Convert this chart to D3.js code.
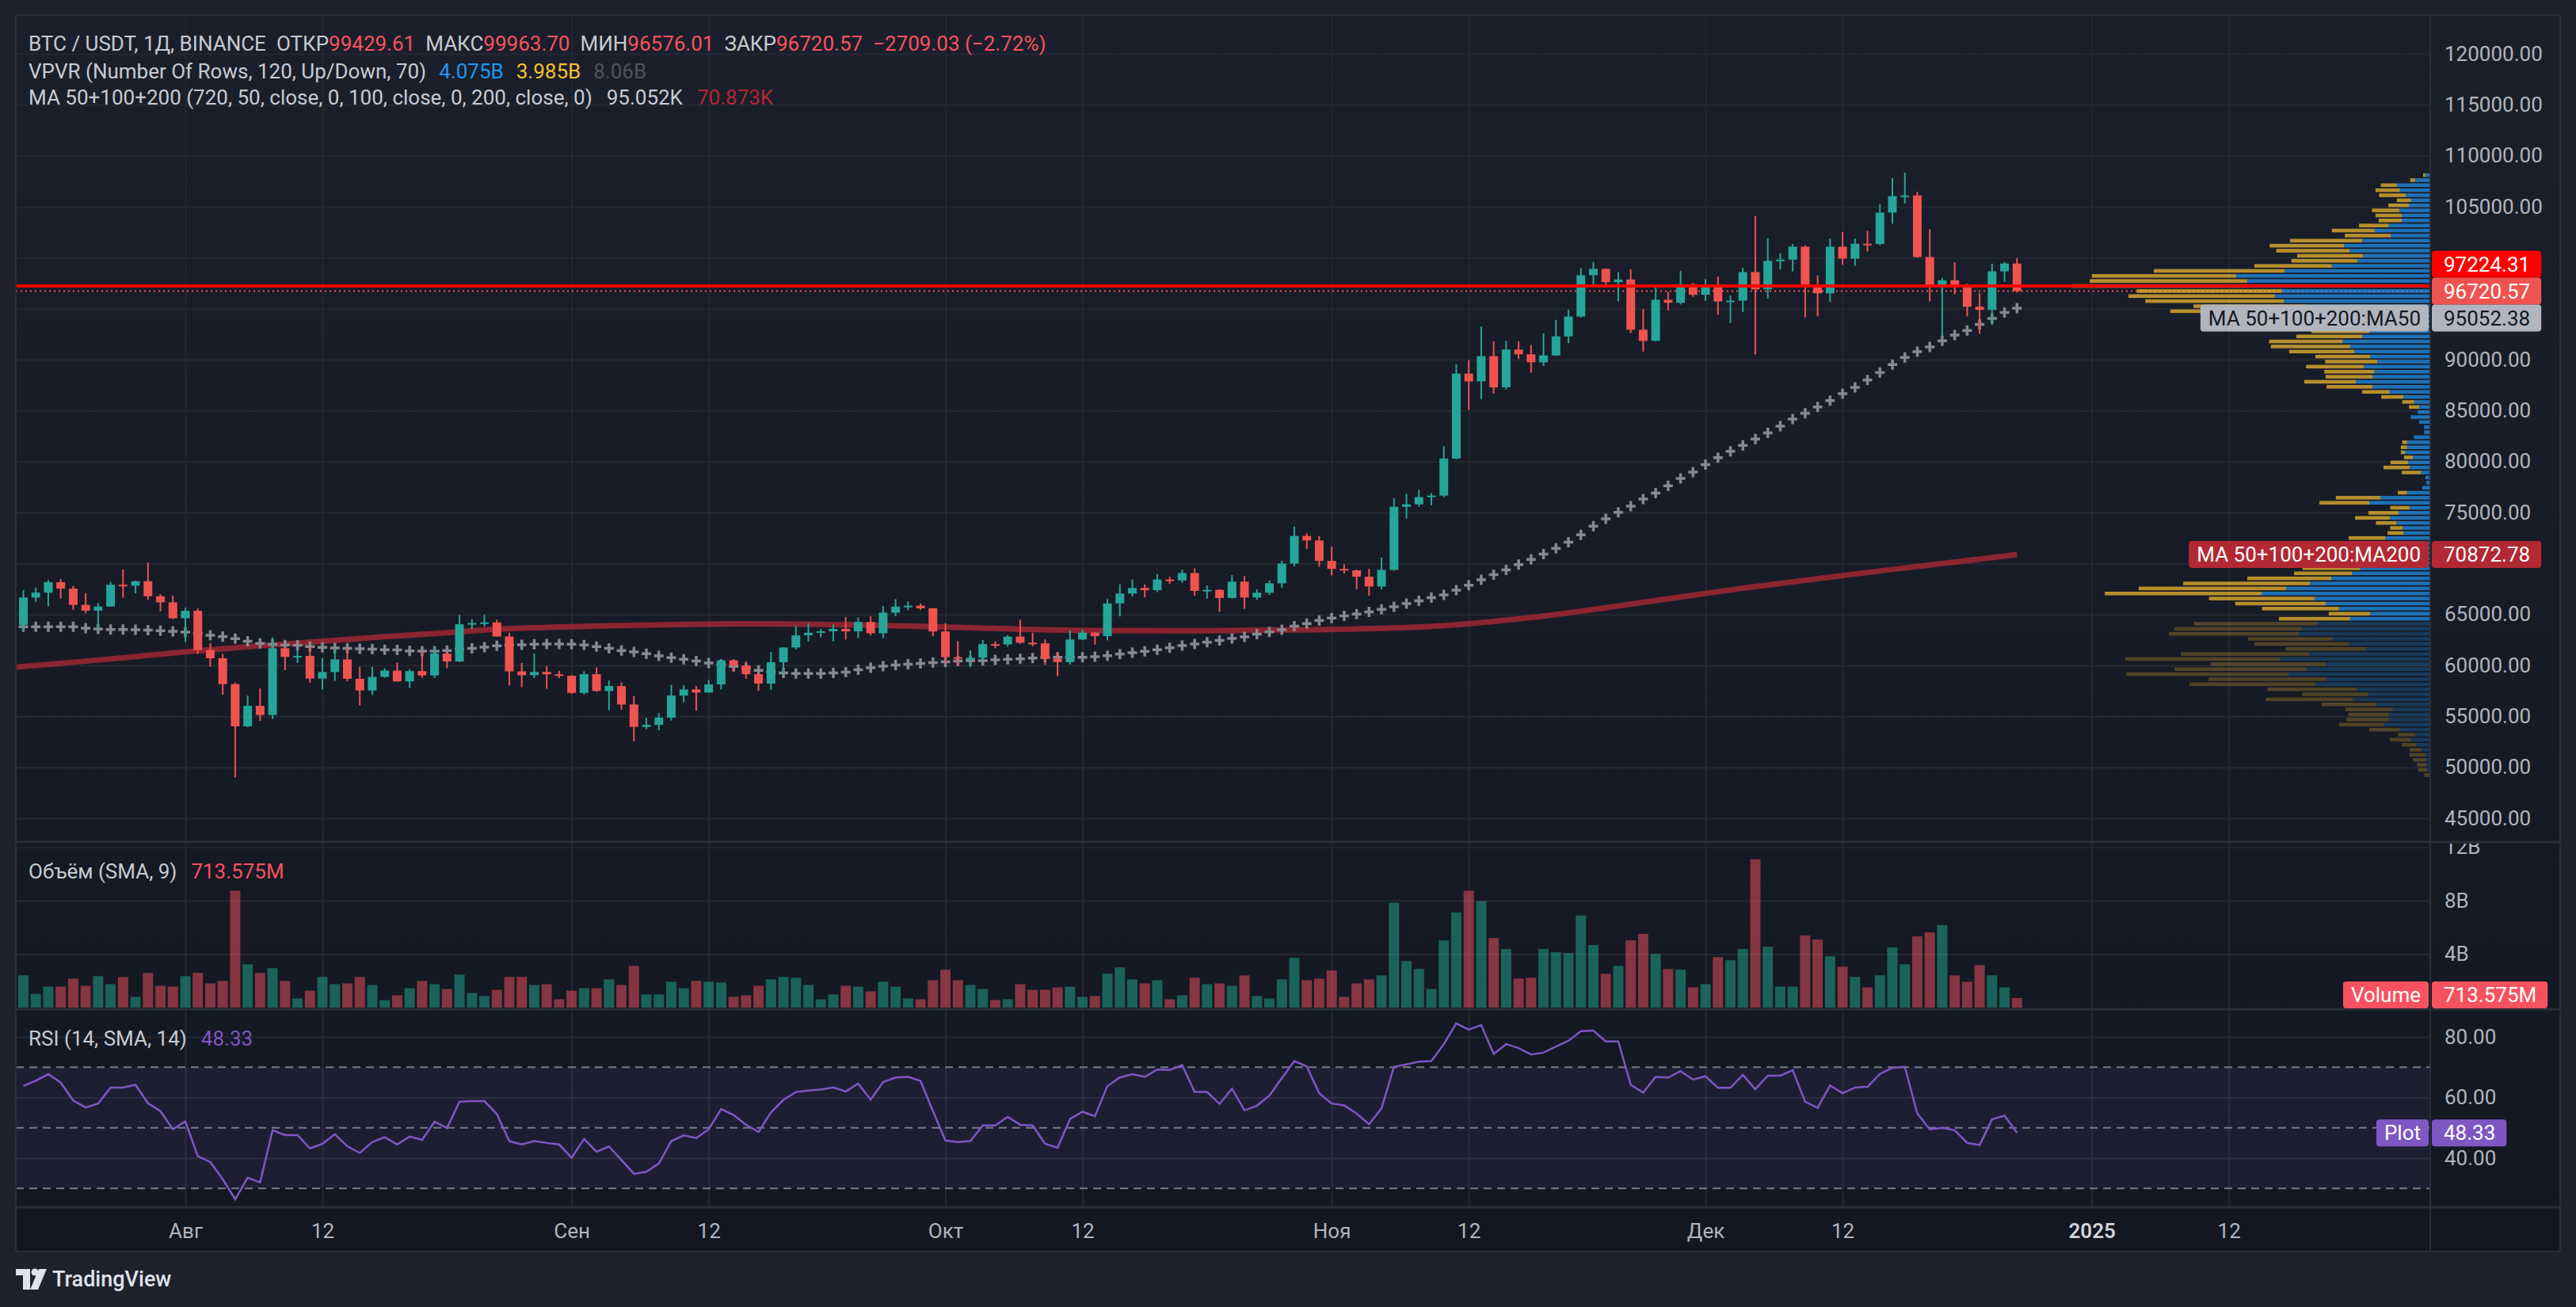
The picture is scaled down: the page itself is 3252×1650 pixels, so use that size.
<!DOCTYPE html>
<html>
<head>
<meta charset="utf-8">
<script src="https://cdn.jsdelivr.net/npm/d3@7"></script>
<style>
  html, body { margin: 0; padding: 0; background: #1e222d; overflow: hidden; }
  svg { display: block; }
</style>
</head>
<body>
<svg id="chart" width="3252" height="1650"></svg>
<script>
// ---------------- data (BTC/USDT daily, Binance) ----------------
const startDay = '2024-07-19';
const endDay = '2024-12-26';

const openP = [
  63974,66660,67139,68165,67532,65936,65372,65777,67912,67813,
  68255,66784,66188,64628,65354,61498,60697,58161,54018,56030,
  55134,61685,60837,60923,58712,59346,60587,58683,57541,58874,
  59491,58427,59438,59013,61156,60381,64037,64157,64220,62834,
  59415,59034,59359,59123,58973,57301,59132,57487,57971,56160,
  53962,54160,54869,57042,57635,57338,58132,60499,59993,59133,
  58213,60309,61759,62947,63201,63348,63578,63339,64262,63152,
  65173,65769,65858,65602,63327,60805,60649,60752,62086,62058,
  62819,62224,62160,60636,60326,62540,63206,62870,66083,67050,
  67590,67380,68420,68340,69060,67310,67410,66610,68210,66660,
  67130,68050,69990,72700,72260,70250,69470,69320,68700,67740,
  69370,75560,75800,76510,76660,80290,88630,87870,90340,87280,
  90990,90520,89740,90410,92280,94230,98280,98900,97600,97860,
  92930,91840,95870,95580,97400,96360,97090,95710,95790,98590,
  96900,99680,99810,101080,97340,96510,101080,99910,101370,101350,
  104430,106040,106110,100070,97340,97790,97291,95187,94881,98663,
  99429.61
];
const highP = [
  67386,67640,68366,68480,67794,67102,66112,68200,69399,68318,
  70079,66984,66849,65660,65596,62198,61117,58305,57040,57736,
  62745,61744,61470,61858,60711,61572,61800,59849,59849,59700,
  60284,59617,61400,61820,61400,64955,64521,64992,64481,63212,
  60234,61166,59944,59462,59054,59425,59809,58519,58327,56995,
  54850,55318,58088,58044,57981,58588,60625,60610,60395,59210,
  61320,61786,63850,64133,63559,64000,64745,64688,64817,65839,
  66498,66260,66076,65618,64130,62390,61477,62487,62370,62983,
  64478,63200,62543,61321,63417,63480,63285,66500,67950,68424,
  67939,68969,68693,69400,69520,67836,67472,68850,68770,67454,
  68332,70270,73620,72961,72700,71632,69914,69390,69480,70577,
  76400,76849,77199,76900,81500,89530,89940,93265,91790,91850,
  91779,91449,92594,93905,94902,98984,99588,98950,98574,98871,
  94974,97208,96650,98693,97499,97888,98150,96297,99000,104088,
  101898,100439,101350,101215,98270,101888,102540,101895,102650,105250,
  107793,108353,106470,102800,98025,99540,97448,96538,99416,99569,
  99963.70
];
const lowP = [
  63300,66222,65777,66573,65441,65111,63456,65751,66640,67067,
  66428,65302,64530,62302,61130,59850,57123,49000,53950,54558,
  54730,59535,60242,58286,57642,58478,58433,56078,57110,58785,
  58408,57787,58786,58783,59724,60345,63574,63789,62800,58034,
  57860,58751,57701,58744,57201,57128,57415,55606,55643,52550,
  53745,53629,54591,56386,55545,57324,57632,59400,58696,57493,
  57610,59174,61555,62350,62758,62357,62538,62700,62947,62670,
  64819,65422,65432,62856,60164,60000,59828,60459,61689,61824,
  62128,61860,60044,58946,60087,62487,62050,62457,64800,66750,
  66666,67177,68010,68100,66840,66571,65260,66556,65550,66439,
  66913,67620,69730,71436,69685,68820,69000,67478,66835,67458,
  69298,74416,75555,75714,76492,80216,85072,86127,86668,87073,
  90056,88722,89376,90357,91619,94130,97122,97136,95734,92600,
  90791,91792,94827,95407,96158,95770,94395,93578,94660,90500,
  95981,98844,98651,94150,94256,95658,99311,99205,100609,101227,
  103333,105321,99990,95700,92232,96398,94250,92520,93404,97632,
  96576.01
];
const closeP = [
  66660,67139,68165,67532,65936,65372,65777,67912,67813,68255,
  66784,66188,64628,65354,61498,60697,58161,54018,56030,55134,
  61685,60837,60923,58712,59346,60587,58683,57541,58874,59491,
  58427,59438,59013,61156,60381,64037,64157,64220,62834,59415,
  59034,59359,59123,58973,57301,59132,57487,57971,56160,53962,
  54160,54869,57042,57635,57338,58132,60499,59993,59133,58213,
  60309,61759,62947,63201,63348,63578,63339,64262,63152,65173,
  65769,65858,65602,63327,60805,60649,60752,62086,62058,62819,
  62224,62160,60636,60326,62540,63206,62870,66083,67050,67590,
  67380,68420,68340,69060,67310,67410,66610,68210,66660,67130,
  68050,69990,72700,72260,70250,69470,69320,68700,67740,69370,
  75560,75800,76510,76660,80290,88630,87870,90340,87280,90990,
  90520,89740,90410,92280,94230,98280,98900,97600,97860,92930,
  91840,95870,95580,97400,96360,97090,95710,95790,98590,96900,
  99680,99810,101080,97340,96510,101080,99910,101370,101350,104430,
  106040,106110,100070,97340,97790,97291,95187,94881,98663,99429.60,
  96720.57
];
// daily volume, billions USDT
const volumeB = [
  2.41,1.03,1.57,1.57,2.17,1.63,2.35,1.75,2.29,0.80,
  2.59,1.63,1.57,2.35,2.59,1.81,1.99,8.74,3.24,2.59,
  2.95,1.99,0.68,1.27,2.29,1.75,1.81,2.29,1.69,0.56,
  0.92,1.45,1.99,1.75,1.39,2.47,1.09,0.86,1.33,2.29,
  2.29,1.69,1.75,0.62,1.27,1.45,1.45,2.11,1.69,3.12,
  0.98,0.98,1.93,1.45,1.99,1.93,1.87,0.80,0.92,1.63,
  2.11,2.29,2.23,1.69,0.62,0.98,1.63,1.57,1.21,1.93,
  1.57,0.68,0.62,2.05,2.83,2.05,1.69,1.39,0.56,0.62,
  1.75,1.33,1.33,1.51,1.57,0.80,0.86,2.53,3.00,2.11,
  1.81,2.05,0.62,0.92,2.23,1.75,1.81,1.63,2.41,0.86,
  0.68,2.11,3.72,2.05,2.17,2.77,0.80,1.81,2.11,2.41,
  7.84,3.48,2.89,1.39,5.03,7.12,8.74,7.96,5.21,4.38,
  2.17,2.23,4.38,4.14,4.08,6.89,4.68,2.53,3.12,5.03,
  5.51,4.02,2.89,2.83,1.51,1.75,3.78,3.54,4.38,11.1,
  4.56,1.57,1.57,5.39,5.09,3.84,3.06,2.29,1.51,2.41,
  4.50,3.24,5.33,5.63,6.17,2.41,1.93,3.18,2.41,1.51,
  0.713575
];
const rsiVals = [
  63.8,65.5,67.7,64.9,59.0,56.7,58.0,63.3,63.3,64.2,
  58.1,55.5,49.5,52.1,40.6,38.7,33.0,26.4,33.5,32.0,
  49.2,47.6,47.6,43.2,44.7,47.9,43.9,41.7,45.3,46.9,
  44.5,47.1,46.0,52.0,49.9,58.6,58.8,58.8,54.5,45.6,
  44.5,45.6,45.0,44.5,40.1,46.3,42.1,43.8,39.4,34.8,
  35.5,38.2,45.6,47.5,46.6,49.5,56.2,54.2,51.0,48.6,
  55.1,59.2,61.8,62.3,62.6,63.3,62.0,64.6,59.3,65.1,
  66.6,66.8,65.5,55.5,45.8,45.3,45.6,50.8,50.8,53.6,
  51.0,50.8,44.7,43.4,52.9,55.3,53.8,63.8,66.6,67.7,
  66.8,69.2,69.1,70.7,61.8,61.8,57.9,62.9,55.8,57.3,
  60.6,66.4,72.0,70.3,61.4,58.0,57.4,54.7,51.2,56.4,
  70.1,70.9,71.8,72.0,77.6,84.5,82.4,83.9,74.4,77.6,
  76.3,74.2,74.8,76.8,78.7,81.9,82.1,78.5,78.5,64.2,
  61.6,66.8,66.6,68.7,65.9,67.0,63.2,63.2,67.5,62.7,
  67.2,67.2,69.0,58.6,56.6,64.0,61.4,63.3,63.5,67.8,
  69.8,70.1,54.7,49.5,50.0,49.2,45.0,44.3,52.8,54.0,
  48.33
];
const ma50Vals = [
  63785,63785,63785,63785,63785,63656,63578,63526,63526,63500,
  63449,63397,63345,63267,63137,62956,62827,62620,62361,62154,
  62050,61998,61972,61843,61765,61713,61662,61636,61584,61532,
  61506,61428,61402,61402,61454,61584,61662,61791,61920,61998,
  62024,62076,62102,62102,62076,61998,61843,61662,61454,61325,
  61144,60937,60755,60600,60418,60237,60082,59900,59719,59512,
  59356,59253,59201,59201,59201,59253,59330,59564,59771,59926,
  60030,60108,60185,60263,60341,60420,60470,60470,60547,60598,
  60650,60727,60779,60805,60805,60805,60856,60960,61114,61243,
  61372,61527,61734,61940,62095,62275,62456,62637,62791,63075,
  63282,63488,63849,64107,64417,64649,64855,65036,65242,65500,
  65758,66068,66326,66636,66919,67384,67874,68390,68906,69370,
  69886,70402,70918,71486,72079,72802,73650,74379,75027,75625,
  76325,76896,77623,78350,78972,79699,80374,80996,81593,82216,
  82813,83462,84163,84733,85356,85979,86653,87276,88003,88730,
  89508,90209,90779,91247,91843,92414,92855,93453,94049,94620,
  95052.38
];
// MA200 read at these dates
const ma200Dates = ['2024-07-18','2024-07-19','2024-07-23','2024-07-28','2024-08-02','2024-08-07','2024-08-12',
  '2024-08-17','2024-08-22','2024-08-26','2024-08-31','2024-09-05','2024-09-10','2024-09-15','2024-09-20',
  '2024-09-25','2024-09-30','2024-10-06','2024-10-12','2024-10-22','2024-11-01','2024-11-09','2024-11-12',
  '2024-11-16','2024-11-19','2024-11-23','2024-11-27','2024-12-04','2024-12-11','2024-12-16','2024-12-21','2024-12-26'];
const ma200Vals = [59770,59900,60290,60860,61450,61920,62360,
  62830,63190,63580,63790,63910,64020,64100,64040,
  63970,63790,63600,63380,63380,63490,63770,64060,
  64550,64980,65650,66350,67620,68650,69420,70150,70872.78];

// VPVR: 120 rows over the visible range, listed top row first (billions)
const vpHigh = 108353;
const vpLow = 49000;
const vpUp = [
  0.11,0.34,0.75,0.68,0.55,0.43,0.48,0.69,0.64,0.64,
  0.94,1.25,0.89,1.53,1.94,1.81,1.51,1.64,2.21,3.27,
  4.36,4.11,4.075,3.33,3.49,3.29,2.78,3.17,2.99,2.81,
  2.40,1.37,1.53,1.97,1.80,1.71,1.35,1.19,1.49,1.26,
  1.30,1.67,1.30,0.91,0.60,0.36,0.25,0.28,0.44,0.25,
  0.14,0.14,0.37,0.52,0.52,0.57,0.39,0.50,0.46,0.21,
  0.11,0.09,0.18,0.52,1.12,1.37,0.46,0.71,0.91,0.76,
  0.62,0.60,1.01,0.76,0.91,1.21,1.33,1.45,1.57,1.76,
  2.22,2.70,3.24,3.79,2.60,2.35,2.05,1.35,1.80,2.53,
  2.88,2.95,2.19,1.83,1.44,2.72,3.38,2.35,2.79,3.18,
  2.33,2.58,1.65,1.39,1.73,1.21,0.84,0.93,0.93,1.05,
  0.68,0.34,0.43,0.32,0.20,0.11,0.09,0.09,0.07,0.02
];
const vpDown = [
  0.05,0.11,0.36,0.55,0.60,0.32,0.46,0.62,0.59,0.52,
  0.66,0.96,1.03,1.62,1.67,1.65,1.48,1.48,1.74,2.94,
  3.24,3.54,3.985,3.26,3.29,3.11,2.54,2.67,2.02,1.84,
  1.19,1.30,1.48,1.65,1.78,1.46,1.23,1.17,1.30,1.12,
  1.05,1.16,1.03,0.62,0.50,0.27,0.23,0,0,0,
  0,0,0,0.11,0.14,0.09,0.20,0.39,0.59,0.43,
  0,0,0,0.21,1.00,1.12,0.44,0.68,0.78,0.46,
  0.28,0.36,0.82,0.62,0.89,0.89,1.19,1.25,1.30,1.30,
  1.89,2.85,3.31,3.52,2.37,2.03,1.73,0.93,1.60,2.78,
  2.86,2.92,1.90,2.12,1.81,2.88,3.47,2.58,2.95,3.65,
  2.65,2.83,2.01,1.49,1.96,1.23,1.07,0.91,0.96,1.00,
  0.69,0.39,0.48,0.32,0.27,0.36,0.30,0.21,0.20,0.11
];
const vpValueAreaRows = 89;   // rows from the top inside the 70% value area
const vpPocRow = 22;

const drawnLevel = 97224.31;  // horizontal line
const priceTicks = d3.range(45000, 120001, 5000);
const volTicks = [4, 8, 12];
const rsiTicks = [40, 60, 80];
const rsiLevels = [70, 50, 30];
const timeTickDates = ['2024-08-01','2024-08-12','2024-09-01','2024-09-12','2024-10-01','2024-10-12',
  '2024-11-01','2024-11-12','2024-12-01','2024-12-12','2025-01-01','2025-01-12'];
const timeTickLabels = ['Авг','12','Сен','12','Окт','12','Ноя','12','Дек','12','2025','12'];

// ---------------- layout ----------------
const FONT = 'Roboto, "Noto Sans", "DejaVu Sans", sans-serif';
const LEFT = 20, TOP = 19, AXIS_X = 3068, RIGHT = 3232;
const PRICE_BOTTOM = 1063, VOL_BOTTOM = 1274, RSI_BOTTOM = 1524, TIME_BOTTOM = 1580;
const GRID = '#242833', BORDER = '#2a2e39', TEXT = '#b2b5be';
const UP = '#26a69a', DOWN = '#ef5350';
const TAG_H = 34;

const parseDay = d3.utcParse('%Y-%m-%d');
const days = d3.utcDay.range(parseDay(startDay), d3.utcDay.offset(parseDay(endDay), 1));
const idx = d3.range(days.length);
const isUp = i => closeP[i] >= openP[i];
const last = closeP.length - 1;

const x = d3.scaleUtc().domain([days[0], days[last]])
  .range([29.5, 29.5 + 15.73 * last]);
const y = d3.scaleLinear().domain([45000, 120000]).range([1033, 68]);
const yv = d3.scaleLinear().domain([0, 12]).range([1272, 1069.5]);
const yr = d3.scaleLinear().domain([40, 80]).range([1462, 1309]);

// tag positions on the price axis: last price stays, neighbours get pushed away
const lastClose = closeP[last];
const lastMa50 = ma50Vals[ma50Vals.length - 1];
const lastMa200 = ma200Vals[ma200Vals.length - 1];
const lastVol = volumeB[last];
const lastRsi = rsiVals[last];
const lastY = y(lastClose);
const drawnY = Math.min(y(drawnLevel), lastY - TAG_H);
const ma50Y = Math.max(y(lastMa50), lastY + TAG_H);
const ma200Y = y(lastMa200);
const priceTagYs = [drawnY, lastY, ma50Y, ma200Y];
const volTagY = Math.min(yv(lastVol), VOL_BOTTOM - 1 - TAG_H / 2);
const rsiTagY = yr(lastRsi);

const svg = d3.select('#chart').attr('font-family', FONT);
const defs = svg.append('defs');

const bg = defs.append('linearGradient').attr('id', 'bg').attr('x1', 0).attr('y1', 0).attr('x2', 0).attr('y2', 1);
bg.append('stop').attr('offset', '0%').attr('stop-color', '#1b1f2b');
bg.append('stop').attr('offset', '100%').attr('stop-color', '#131722');

function addClip(id, x0, y0, x1, y1) {
  defs.append('clipPath').attr('id', id).append('rect')
    .attr('x', x0).attr('y', y0).attr('width', x1 - x0).attr('height', y1 - y0);
}
addClip('clipPrice', LEFT, TOP, AXIS_X, PRICE_BOTTOM);
addClip('clipVol', LEFT, PRICE_BOTTOM, AXIS_X, VOL_BOTTOM);
addClip('clipRsi', LEFT, VOL_BOTTOM, AXIS_X, RSI_BOTTOM);
addClip('clipVolAxis', AXIS_X, PRICE_BOTTOM + 2, RIGHT, VOL_BOTTOM);

svg.append('rect').attr('width', 3252).attr('height', 1650).attr('fill', '#1e222d');
svg.append('rect').attr('x', LEFT).attr('y', TOP).attr('width', RIGHT - LEFT).attr('height', TIME_BOTTOM - TOP)
  .attr('fill', 'url(#bg)');

// ---------------- grid ----------------
function hGrid(scale, ticks, clipId) {
  svg.append('g').attr('clip-path', `url(#${clipId})`)
    .append('g').attr('transform', `translate(${LEFT},0)`)
    .call(d3.axisRight(scale).tickValues(ticks).tickSize(AXIS_X - LEFT).tickFormat(''))
    .call(g => g.select('.domain').remove())
    .selectAll('line').attr('stroke', GRID).attr('stroke-width', 2);
}
hGrid(y, priceTicks, 'clipPrice');
hGrid(yv, volTicks, 'clipVol');
hGrid(yr, rsiTicks, 'clipRsi');

svg.append('g').attr('transform', `translate(0,${TOP})`)
  .call(d3.axisBottom(x).tickValues(timeTickDates.map(parseDay)).tickSize(RSI_BOTTOM - TOP).tickFormat(''))
  .call(g => g.select('.domain').remove())
  .selectAll('line').attr('stroke', GRID).attr('stroke-width', 2);

// ---------------- price pane ----------------
const pricePane = svg.append('g').attr('clip-path', 'url(#clipPrice)');

// last price dotted line (sits under the volume profile)
pricePane.append('line')
  .attr('x1', LEFT).attr('x2', AXIS_X).attr('y1', lastY).attr('y2', lastY)
  .attr('stroke', DOWN).attr('stroke-width', 2).attr('stroke-dasharray', '2 4');

// volume profile, anchored on the price axis
const rowP = (vpHigh - vpLow) / vpUp.length;
const vpTotals = vpUp.map((u, i) => u + vpDown[i]);
const vx = d3.scaleLinear().domain([0, d3.max(vpTotals)]).range([0, 453]);
const rowH = (y(0) - y(rowP)) * 0.72;
const vp = pricePane.append('g');
vp.selectAll('rect.vpu').data(vpUp).join('rect').attr('class', 'vpu')
  .attr('x', d => AXIS_X - vx(d)).attr('width', d => vx(d))
  .attr('y', (d, i) => y(vpHigh - (i + 0.5) * rowP) - rowH / 2).attr('height', rowH)
  .attr('fill', '#2196f3').attr('fill-opacity', (d, i) => i < vpValueAreaRows ? 0.7 : 0.25);
vp.selectAll('rect.vpd').data(vpDown).join('rect').attr('class', 'vpd')
  .attr('x', (d, i) => AXIS_X - vx(vpTotals[i])).attr('width', d => vx(d))
  .attr('y', (d, i) => y(vpHigh - (i + 0.5) * rowP) - rowH / 2).attr('height', rowH)
  .attr('fill', '#fbc02d').attr('fill-opacity', (d, i) => i < vpValueAreaRows ? 0.7 : 0.25);

// MA200 thick red line
pricePane.append('path')
  .datum(ma200Dates.map((d, i) => [parseDay(d), ma200Vals[i]]))
  .attr('d', d3.line().x(d => x(d[0])).y(d => y(d[1])).curve(d3.curveBasis))
  .attr('fill', 'none').attr('stroke', '#b22833').attr('stroke-opacity', 0.75).attr('stroke-width', 7);

// MA50 as cross markers
pricePane.append('g').selectAll('path').data(idx).join('path')
  .attr('d', i => {
    const cx = x(days[i]), cy = y(ma50Vals[i]);
    return `M${cx - 6},${cy}H${cx + 6}M${cx},${cy - 6.5}V${cy + 6.5}`;
  })
  .attr('stroke', '#868993').attr('stroke-width', 3.5);

// candles
const candles = pricePane.append('g');
candles.selectAll('line').data(idx).join('line')
  .attr('x1', i => x(days[i])).attr('x2', i => x(days[i]))
  .attr('y1', i => y(highP[i])).attr('y2', i => y(lowP[i]))
  .attr('stroke', i => isUp(i) ? UP : DOWN).attr('stroke-width', 2);
candles.selectAll('rect').data(idx).join('rect')
  .attr('x', i => x(days[i]) - 5.5).attr('width', 11)
  .attr('y', i => y(Math.max(openP[i], closeP[i])))
  .attr('height', i => Math.max(2, Math.abs(y(openP[i]) - y(closeP[i]))))
  .attr('fill', i => isUp(i) ? UP : DOWN);

// horizontal drawn level
pricePane.append('line')
  .attr('x1', LEFT).attr('x2', AXIS_X).attr('y1', y(drawnLevel)).attr('y2', y(drawnLevel))
  .attr('stroke', '#ff0000').attr('stroke-width', 4);

// ---------------- volume pane ----------------
svg.append('g').attr('clip-path', 'url(#clipVol)')
  .selectAll('rect').data(idx).join('rect')
  .attr('x', i => x(days[i]) - 6.5).attr('width', 13)
  .attr('y', i => yv(volumeB[i])).attr('height', i => yv(0) - yv(volumeB[i]))
  .attr('fill', i => isUp(i) ? '#22ab94' : '#f7525f').attr('fill-opacity', 0.5);

// ---------------- RSI pane ----------------
const rsiPane = svg.append('g').attr('clip-path', 'url(#clipRsi)');
rsiPane.append('rect').attr('x', LEFT).attr('width', AXIS_X - LEFT)
  .attr('y', yr(70)).attr('height', yr(30) - yr(70)).attr('fill', '#7e57c2').attr('fill-opacity', 0.1);
rsiPane.selectAll('line').data(rsiLevels).join('line')
  .attr('x1', LEFT).attr('x2', AXIS_X).attr('y1', d => yr(d)).attr('y2', d => yr(d))
  .attr('stroke', '#787b86').attr('stroke-width', 2).attr('stroke-dasharray', '10 7');
rsiPane.append('path').datum(idx)
  .attr('d', d3.line().x(i => x(days[i])).y(i => yr(rsiVals[i])))
  .attr('fill', 'none').attr('stroke', '#7e57c2').attr('stroke-width', 2.5);

// ---------------- frame ----------------
const frame = svg.append('g').attr('stroke', BORDER);
frame.append('rect').attr('x', LEFT).attr('y', TOP).attr('width', RIGHT - LEFT).attr('height', TIME_BOTTOM - TOP)
  .attr('fill', 'none').attr('stroke-width', 2);
frame.append('line').attr('x1', AXIS_X).attr('x2', AXIS_X).attr('y1', TOP).attr('y2', TIME_BOTTOM).attr('stroke-width', 2);
[PRICE_BOTTOM, VOL_BOTTOM, RSI_BOTTOM].forEach(yy => {
  frame.append('line').attr('x1', LEFT).attr('x2', RIGHT).attr('y1', yy).attr('y2', yy).attr('stroke-width', 3);
});

// ---------------- axes ----------------
// tick labels sitting under a tag are covered in the original, so leave them out
function freeTicks(scale, ticks, tagYs) {
  return ticks.filter(t => tagYs.every(ty => Math.abs(scale(t) - ty) > 30));
}
function valueAxis(scale, ticks, fmt, clipId) {
  const g = svg.append('g');
  if (clipId) g.attr('clip-path', `url(#${clipId})`);
  g.append('g').attr('transform', `translate(${AXIS_X},0)`)
    .call(d3.axisRight(scale).tickValues(ticks).tickSize(0).tickPadding(18).tickFormat(fmt))
    .call(a => a.select('.domain').remove())
    .attr('font-family', FONT).attr('font-size', 26)
    .selectAll('text').attr('fill', TEXT);
}
valueAxis(y, freeTicks(y, priceTicks, priceTagYs), d3.format('.2f'));
valueAxis(yv, freeTicks(yv, volTicks, [volTagY]), d => d + 'B', 'clipVolAxis');
valueAxis(yr, freeTicks(yr, rsiTicks, [rsiTagY]), d3.format('.2f'));

svg.append('g').attr('transform', `translate(0,${RSI_BOTTOM})`)
  .call(d3.axisBottom(x).tickValues(timeTickDates.map(parseDay)).tickSize(0)
    .tickFormat((d, i) => timeTickLabels[i]))
  .call(a => a.select('.domain').remove())
  .attr('font-family', FONT).attr('font-size', 26)
  .selectAll('text')
  .attr('y', 30).attr('dy', '0.35em')
  .attr('fill', d => d.getUTCMonth() === 0 && d.getUTCDate() === 1 ? '#d1d4dc' : TEXT)
  .attr('font-weight', d => d.getUTCMonth() === 0 && d.getUTCDate() === 1 ? 600 : 400);

// ---------------- axis tags ----------------
function axisTag(yc, value, bg, fg, name) {
  const g = svg.append('g').attr('font-size', 26);
  const vt = g.append('text').attr('x', AXIS_X + 17).attr('y', yc).attr('dy', '0.35em')
    .attr('fill', fg).text(value);
  const vw = vt.node().getComputedTextLength();
  g.insert('rect', 'text').attr('x', AXIS_X + 2).attr('y', yc - TAG_H / 2).attr('width', vw + 29).attr('height', TAG_H)
    .attr('rx', 4).attr('fill', bg);
  if (name) {
    const nt = g.append('text').attr('x', AXIS_X - 12).attr('y', yc).attr('dy', '0.35em')
      .attr('text-anchor', 'end').attr('fill', fg).text(name);
    const nw = nt.node().getComputedTextLength();
    g.insert('rect', 'text').attr('x', AXIS_X - 2 - nw - 20).attr('y', yc - TAG_H / 2).attr('width', nw + 20)
      .attr('height', TAG_H).attr('rx', 4).attr('fill', bg);
  }
}

axisTag(drawnY, d3.format('.2f')(drawnLevel), '#ff0000', '#ffffff');
axisTag(lastY, d3.format('.2f')(lastClose), DOWN, '#ffffff');
axisTag(ma50Y, d3.format('.2f')(lastMa50), '#b2b5be', '#131722', 'MA 50+100+200:MA50');
axisTag(ma200Y, d3.format('.2f')(lastMa200), '#b22833', '#ffffff', 'MA 50+100+200:MA200');
axisTag(volTagY, d3.format('.3f')(lastVol * 1000) + 'M', '#f7525f', '#ffffff', 'Volume');
axisTag(rsiTagY, d3.format('.2f')(lastRsi), '#7e57c2', '#ffffff', 'Plot');

// ---------------- legends ----------------
function legendRow(yPos, parts) {
  const t = svg.append('text').attr('x', 36).attr('y', yPos).attr('dy', '0.35em').attr('font-size', 26);
  parts.forEach(p => t.append('tspan').attr('dx', p[2] || 0).attr('fill', p[1]).text(p[0]));
}
const chg = closeP[last] - closeP[last - 1];
const signed = v => (v < 0 ? '\u2212' : '+') + Math.abs(v).toFixed(2);
const RED = '#f7525f', LABEL = '#c8cbd3';
legendRow(55, [
  ['BTC / USDT, 1Д, BINANCE', LABEL],
  ['ОТКР', LABEL, 13], [openP[last].toFixed(2), RED],
  ['МАКС', LABEL, 13], [highP[last].toFixed(2), RED],
  ['МИН', LABEL, 13], [lowP[last].toFixed(2), RED],
  ['ЗАКР', LABEL, 13], [closeP[last].toFixed(2), RED],
  [signed(chg) + ' (' + signed(chg / closeP[last - 1] * 100) + '%)', RED, 13]
]);
legendRow(90, [
  ['VPVR (Number Of Rows, 120, Up/Down, 70)', LABEL],
  [vpUp[vpPocRow].toFixed(3) + 'B', '#2196f3', 16],
  [vpDown[vpPocRow].toFixed(3) + 'B', '#fbc02d', 16],
  [vpTotals[vpPocRow].toFixed(2) + 'B', '#50535e', 16]
]);
legendRow(123, [
  ['MA 50+100+200 (720, 50, close, 0, 100, close, 0, 200, close, 0)', LABEL],
  [(lastMa50 / 1000).toFixed(3) + 'K', LABEL, 18],
  [(lastMa200 / 1000).toFixed(3) + 'K', '#b22833', 18]
]);
legendRow(1100, [
  ['Объём (SMA, 9)', LABEL],
  [(lastVol * 1000).toFixed(3) + 'M', RED, 18]
]);
legendRow(1311, [
  ['RSI (14, SMA, 14)', LABEL],
  [lastRsi.toFixed(2), '#7e57c2', 18]
]);

// ---------------- TradingView mark ----------------
const logo = svg.append('g').attr('fill', '#e0e3eb');
logo.append('path').attr('d', 'M20,1602H38V1628H29V1610H20Z');
logo.append('circle').attr('cx', 44).attr('cy', 1606).attr('r', 4.5);
logo.append('path').attr('d', 'M49,1602H59L48,1628H38Z');
svg.append('text').attr('x', 66).attr('y', 1615).attr('dy', '0.35em')
  .attr('font-size', 27).attr('font-weight', 500).attr('fill', '#e0e3eb').text('TradingView');
</script>
</body>
</html>
